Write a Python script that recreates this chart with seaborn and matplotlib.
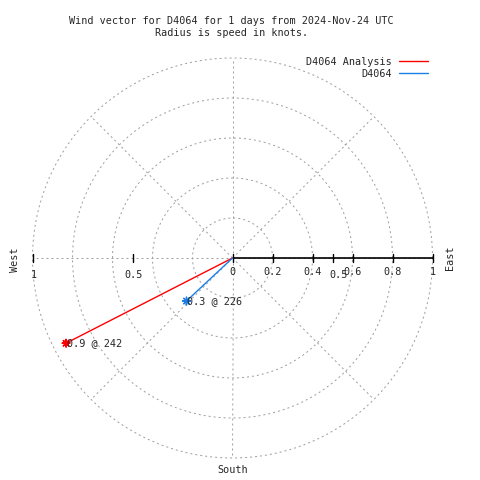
import matplotlib

matplotlib.use("Agg")
import matplotlib.pyplot as plt
import numpy as np
import pandas as pd
import seaborn as sns

# wind vectors: speed in knots, direction in degrees (from north, clockwise)
series = ["D4064 Analysis", "D4064"]
speeds = [0.935, 0.315]
directions = [242.9, 226.9]
colors = ["#ff0000", "#1a80e8"]

ring_radii = [0.2, 0.4, 0.6, 0.8, 1.0]
spoke_angles = [0, 45, 90, 135, 180, 225, 270, 315]
right_ticks = [0, 0.2, 0.4, 0.6, 0.8, 1]
left_ticks = [1, 0.5]
mid_tick = 0.5

title = "Wind vector for D4064 for 1 days from 2024-Nov-24 UTC\nRadius is speed in knots."

FONT = "DejaVu Sans Mono"
FS = 7.3
GRID = "#a0a0a0"

sns.set_style("white")
plt.rcParams["font.family"] = [FONT]

fig = plt.figure(figsize=(4.8, 4.8), dpi=100)
ax = fig.add_axes([0, 0, 1, 1])
ax.set_xlim(-232.5 / 200, 247.5 / 200)
ax.set_ylim(-222 / 200, 258 / 200)
ax.set_aspect("equal")
ax.axis("off")

# polar grid
theta = np.linspace(0, 2 * np.pi, 361)
for r in ring_radii:
    ax.plot(r * np.cos(theta), r * np.sin(theta), color=GRID, lw=0.72,
            ls=(0, (2, 3)), zorder=1)
for a in spoke_angles:
    t = np.deg2rad(a)
    ax.plot([0, np.cos(t)], [0, np.sin(t)], color=GRID, lw=0.72,
            ls=(0, (2, 3)), zorder=1)

# radial axis to the east
ax.plot([0, 1], [0, 0], color="black", lw=1.2, zorder=2)
tk = 0.02
for v in right_ticks + [mid_tick]:
    ax.plot([v, v], [-tk, tk], color="black", lw=1, zorder=2)
    if v in right_ticks:
        ax.text(v, -0.07, f"{v:g}", ha="center", va="center", fontsize=FS)
ax.text(mid_tick + 0.03, -0.085, f"{mid_tick:g}", ha="center", va="center", fontsize=FS)
for v in left_ticks:
    ax.plot([-v, -v], [-tk, tk], color="black", lw=1, zorder=2)
    ax.text(-v + 0.005, -0.085, f"{v:g}", ha="center", va="center", fontsize=FS)

# wind vectors
rad = np.deg2rad(directions)
ex = np.array(speeds) * np.sin(rad)
ey = np.array(speeds) * np.cos(rad)
vec = pd.DataFrame({
    "series": np.repeat(series, 2),
    "x": np.ravel(np.column_stack([np.zeros(len(series)), ex])),
    "y": np.ravel(np.column_stack([np.zeros(len(series)), ey])),
})
pal = dict(zip(series, colors))
sns.lineplot(data=vec, x="x", y="y", hue="series", hue_order=series,
             palette=pal, sort=False, estimator=None, lw=1, ax=ax, zorder=3)
ends = pd.DataFrame({"series": series, "x": ex, "y": ey})
sns.scatterplot(data=ends, x="x", y="y", hue="series", palette=pal,
                marker=(8, 2, 0), s=30, linewidth=1, legend=False, ax=ax, zorder=4)
for s, d, x, y in zip(speeds, directions, ex, ey):
    ax.text(x + 0.005, y, f"{s:.1f} @ {int(d)}", ha="left", va="center",
            fontsize=FS, zorder=5)

ax.legend(loc="upper right", bbox_to_anchor=(428 / 480, 1 - 57 / 480),
          bbox_transform=fig.transFigure, frameon=False, markerfirst=False,
          fontsize=FS, handlelength=2.9, handletextpad=0.7, labelspacing=0.15,
          borderpad=0, borderaxespad=0)

# compass labels
ax.text(1.0875, 0, "East", rotation=90, ha="center", va="center", fontsize=FS)
ax.text(-1.0875, -0.01, "West", rotation=90, ha="center", va="center", fontsize=FS)
ax.text(0, -1.06, "South", ha="center", va="center", fontsize=FS)

fig.text(231.5 / 480, 1 - 26.5 / 480, title, ha="center", va="center",
         fontsize=FS, linespacing=1.25)

fig.savefig("out.png", dpi=100)
